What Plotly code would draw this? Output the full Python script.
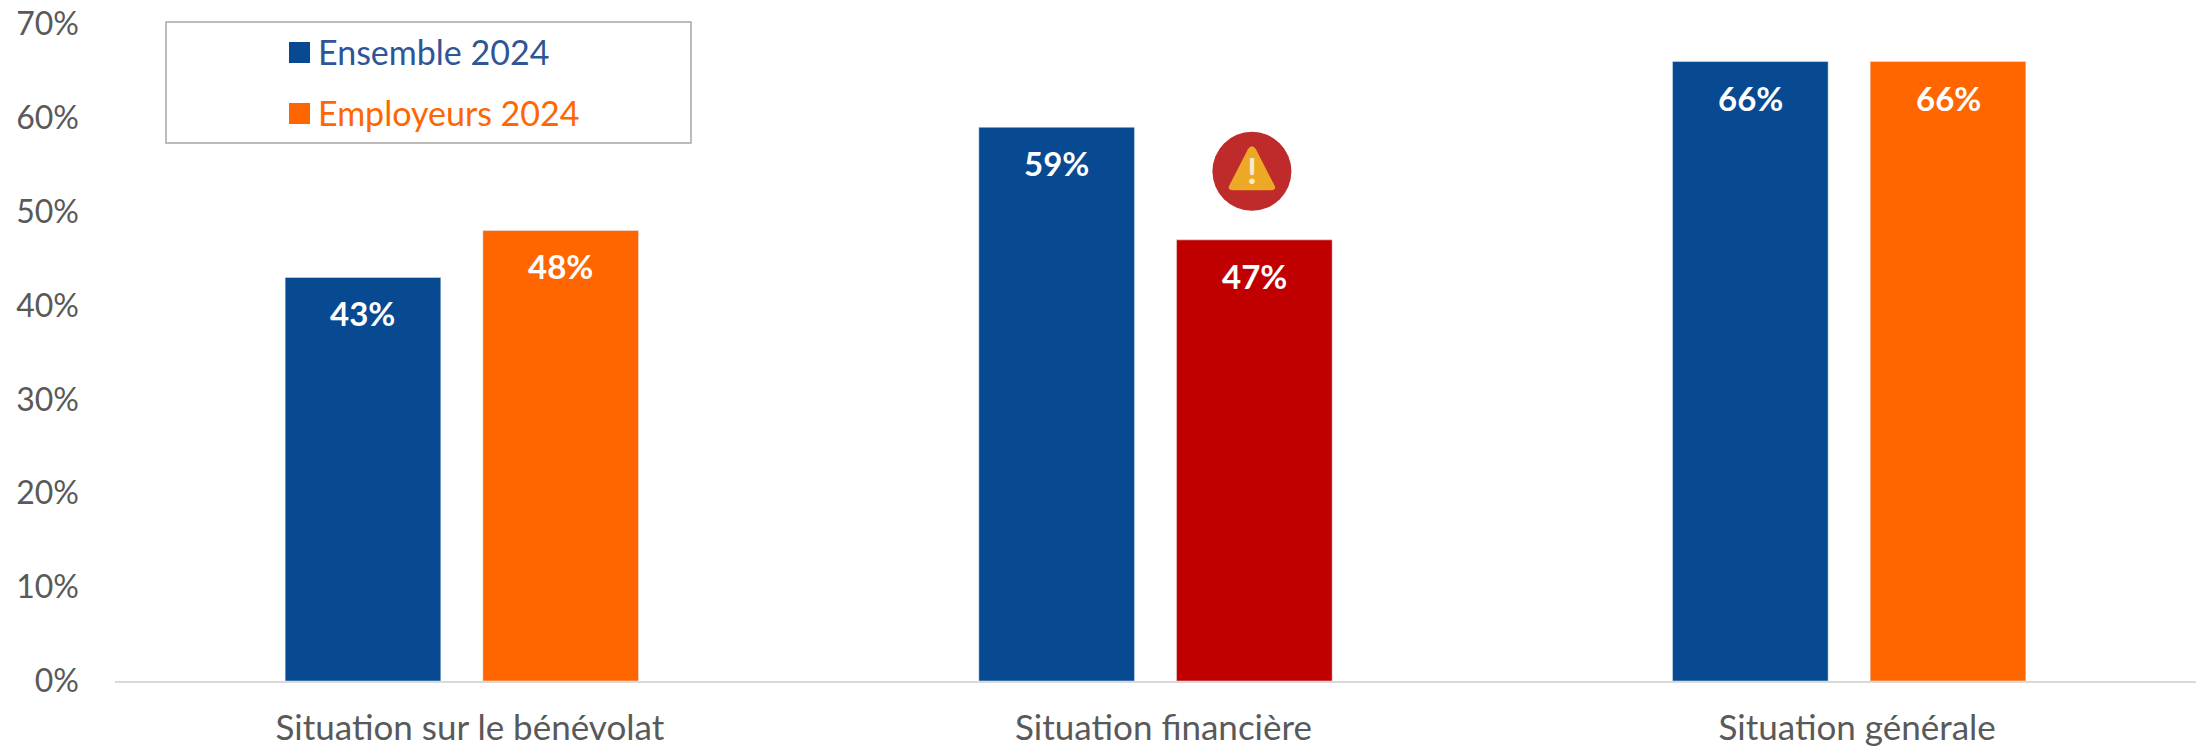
import plotly.graph_objects as go

categories = ["Situation sur le bénévolat", "Situation financière", "Situation générale"]
ensemble = [43, 59, 66]
employeurs = [48, 47, 66]
emp_colors = ["#FF6600", "#C00000", "#FF6600"]
series_names = ["Ensemble 2024", "Employeurs 2024"]
tick_vals = [0, 10, 20, 30, 40, 50, 60, 70]
BLUE = "#074A91"
ORANGE = "#FF6600"
FONT = "Lato"
OFF = 0.1425
x = list(range(len(categories)))

# the page's body margin is removed, so the figure fills the window exactly
L, T, PW, PH = 115, 24, 2081, 657
W, H = 2206, 747


def px(v):  # page x -> paper fraction
    return (v - L) / PW


def py(v):  # page y -> paper fraction
    return 1 - (v - T) / PH


ICON_X = 1.139
ICON_Y = 54.3

fig = go.Figure()
fig.add_bar(x=x, y=ensemble, name=series_names[0], marker_color=BLUE, showlegend=False)
fig.add_bar(x=x, y=employeurs, name=series_names[1], marker_color=emp_colors, showlegend=False)

# warning icon
fig.add_scatter(x=[ICON_X], y=[ICON_Y], mode="markers", showlegend=False, hoverinfo="skip",
                marker=dict(symbol="circle", size=79, color="#BF2A2A", line=dict(width=0)))
shapes = [dict(type="path", xref="x", yref="y", xsizemode="pixel", ysizemode="pixel",
               xanchor=ICON_X, yanchor=ICON_Y,
               path="M-19,-19 L19,-19 Q25,-19 22.5,-14 L4,22 Q0,28 -4,22 L-22.5,-14 Q-25,-19 -19,-19 Z",
               fillcolor="#EDA926", line=dict(width=0), layer="above")]

annotations = [dict(x=ICON_X, y=ICON_Y, showarrow=False, text="<b>!</b>", yshift=1,
                    font=dict(family=FONT, size=36, color="#F5EBD5"))]
for i in x:
    for vals, sign in ((ensemble, -1), (employeurs, 1)):
        annotations.append(dict(x=i + sign * OFF, y=vals[i], yshift=-36, showarrow=False,
                                text=f"<b>{vals[i]}%</b>",
                                font=dict(family=FONT, size=33, color="white")))

# legend
shapes.append(dict(type="rect", xref="paper", yref="paper", x0=px(166), x1=px(691),
                   y0=py(143), y1=py(22), line=dict(color="#A6A6A6", width=1.5),
                   fillcolor="white", layer="above"))
legend_rows = [(series_names[0], BLUE, "#2F5597", 52.5), (series_names[1], ORANGE, ORANGE, 113.5)]
for name, sw, tc, yc in legend_rows:
    shapes.append(dict(type="rect", xref="paper", yref="paper",
                       x0=px(289), x1=px(310), y0=py(yc + 10.5), y1=py(yc - 10.5),
                       line=dict(width=0), fillcolor=sw, layer="above"))
    annotations.append(dict(xref="paper", yref="paper", x=px(319), y=py(yc),
                            xanchor="left", xshift=-3, yshift=1, yanchor="middle", showarrow=False, text=name,
                            font=dict(family=FONT, size=34, color=tc)))

fig.update_layout(
    width=W, height=H, autosize=False,
    margin=dict(l=L, r=W - L - PW, t=T, b=H - T - PH),
    paper_bgcolor="white", plot_bgcolor="white",
    barmode="group", bargap=0.43, bargroupgap=0.2127,
    shapes=shapes, annotations=annotations,
    font=dict(family=FONT, color="#595959", size=30),
)
fig.update_xaxes(range=[-0.5, 2.5], tickvals=x, ticktext=categories, showgrid=False, zeroline=False,
                 automargin=False, ticklabelshift=8,
                 showline=True, linecolor="#D9D9D9", linewidth=2, ticks="", ticklabelstandoff=15,
                 tickfont=dict(family=FONT, size=35, color="#595959"))
fig.update_yaxes(range=[0, 70], tickvals=tick_vals, ticktext=[f"{v}%" for v in tick_vals],
                 automargin=False,
                 showgrid=False, zeroline=False, showline=False, ticks="", ticklabelstandoff=35,
                 tickfont=dict(family=FONT, size=32, color="#595959"))
fig.write_html("out.html", config={"displayModeBar": False},
               post_script="document.body.style.margin='0';document.documentElement.style.overflow='hidden';")
